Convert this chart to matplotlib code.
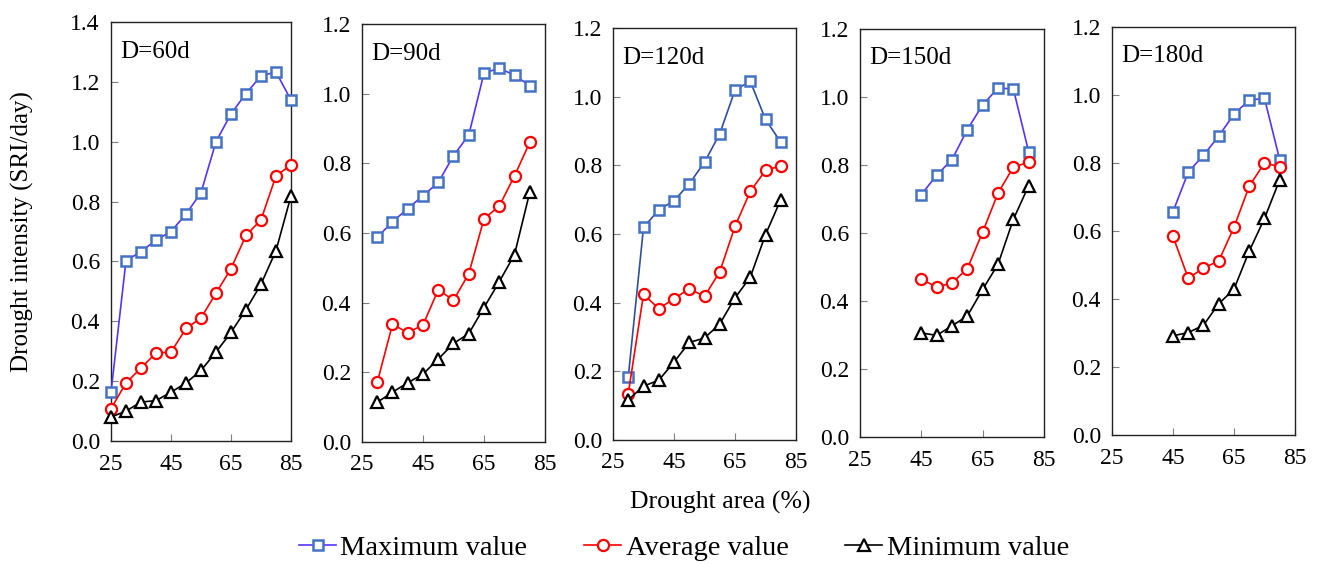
import numpy as np
import matplotlib
matplotlib.use("Agg")
import matplotlib.pyplot as plt
from matplotlib.lines import Line2D

plt.rcParams['font.family'] = ['Liberation Serif', 'DejaVu Serif']

# Drought area (%) per panel
x60 = [25, 30, 35, 40, 45, 50, 55, 60, 65, 70, 75, 80, 85]
x90 = [30, 35, 40, 45, 50, 55, 60, 65, 70, 75, 80]
x120 = [30, 35, 40, 45, 50, 55, 60, 65, 70, 75, 80]
x150 = [45, 50, 55, 60, 65, 70, 75, 80]
x180 = [45, 50, 55, 60, 65, 70, 75, 80]

# Drought intensity (SRI/day)
max60 = [0.163, 0.602, 0.633, 0.671, 0.700, 0.758, 0.830, 1.000, 1.093, 1.161, 1.220, 1.233, 1.139]
avg60 = [0.108, 0.194, 0.244, 0.294, 0.297, 0.376, 0.411, 0.494, 0.576, 0.687, 0.739, 0.886, 0.922]
min60 = [0.080, 0.100, 0.130, 0.135, 0.163, 0.194, 0.236, 0.297, 0.363, 0.439, 0.524, 0.636, 0.819]

max90 = [0.588, 0.632, 0.670, 0.707, 0.745, 0.822, 0.881, 1.059, 1.073, 1.053, 1.023]
avg90 = [0.171, 0.338, 0.314, 0.336, 0.437, 0.407, 0.483, 0.641, 0.677, 0.764, 0.860]
min90 = [0.114, 0.143, 0.170, 0.195, 0.238, 0.283, 0.311, 0.386, 0.460, 0.538, 0.717]

max120 = [0.183, 0.619, 0.670, 0.697, 0.746, 0.809, 0.892, 1.019, 1.045, 0.934, 0.867]
avg120 = [0.135, 0.424, 0.383, 0.411, 0.441, 0.418, 0.490, 0.622, 0.724, 0.785, 0.799]
min120 = [0.117, 0.157, 0.174, 0.227, 0.284, 0.297, 0.338, 0.414, 0.474, 0.598, 0.700]

max150 = [0.713, 0.770, 0.816, 0.904, 0.977, 1.026, 1.024, 0.839]
avg150 = [0.464, 0.441, 0.453, 0.495, 0.603, 0.717, 0.794, 0.808]
min150 = [0.306, 0.299, 0.327, 0.356, 0.434, 0.508, 0.640, 0.739]

max180 = [0.657, 0.773, 0.823, 0.879, 0.944, 0.985, 0.990, 0.809]
avg180 = [0.584, 0.461, 0.491, 0.512, 0.611, 0.732, 0.800, 0.789]
min180 = [0.292, 0.301, 0.323, 0.386, 0.429, 0.541, 0.637, 0.751]

labels = ["D=60d", "D=90d", "D=120d", "D=150d", "D=180d"]
xs = [x60, x90, x120, x150, x180]
maxs = [max60, max90, max120, max150, max180]
avgs = [avg60, avg90, avg120, avg150, avg180]
mins = [min60, min90, min120, min150, min180]
ytops = [1.4, 1.2, 1.2, 1.2, 1.2]
xticks = [25, 45, 65, 85]

W, H = 1318, 564
fig = plt.figure(figsize=(W / 100, H / 100), dpi=100)

# panel boxes in pixels: left, right, top, bottom
boxes = [(111, 291, 22, 441), (362, 545, 24, 442), (613, 796, 28, 440),
         (860, 1044, 29, 437), (1112, 1295, 27, 435)]

max_line = ['#5533FF', '#5533FF', '#2F4F9A', '#5533FF', '#5533FF']
sq_edge = '#4472C4'

for i in range(5):
    l, r, t, b = boxes[i]
    ax = fig.add_axes([l / W, 1 - b / H, (r - l) / W, (b - t) / H])
    ax.plot(xs[i], maxs[i], color=max_line[i], lw=1.2, marker='s', ms=7.5,
            mfc='white', mec=sq_edge, mew=1.8, zorder=3, clip_on=False)
    ax.plot(xs[i], avgs[i], color='red', lw=1.2, marker='o', ms=8,
            mfc='white', mec='red', mew=1.6, zorder=3, clip_on=False)
    ax.plot(xs[i], mins[i], color='black', lw=1.2, marker='^', ms=9,
            mfc='white', mec='black', mew=1.6, zorder=3, clip_on=False)
    ax.set_xlim(25, 85)
    ax.set_ylim(0, ytops[i])
    ax.set_xticks(xticks)
    ax.set_yticks(np.arange(0, ytops[i] + 0.01, 0.2))
    ax.yaxis.set_major_formatter(matplotlib.ticker.FormatStrFormatter('%.1f'))
    ax.tick_params(direction='in', length=5, width=0.8, color='#808080',
                   labelsize=17, pad=8)
    ax.tick_params(axis='x', pad=9)
    for sp in ax.spines.values():
        sp.set_linewidth(1.0)
        sp.set_color('#222222')
    ax.text(0.05, 0.955, labels[i], transform=ax.transAxes, ha='left', va='top',
            fontsize=18)

fig.text(22 / W, 1 - 232 / H, "Drought intensity (SRI/day)", rotation=90,
         ha='center', va='center', fontsize=18)
fig.text(720 / W, 1 - 502 / H, "Drought area (%)", ha='center', va='center',
         fontsize=18.5)

handles = [
    Line2D([], [], color='#5533FF', lw=1.2, marker='s', ms=7.5, mfc='white', mec=sq_edge, mew=1.8),
    Line2D([], [], color='red', lw=1.2, marker='o', ms=8, mfc='white', mec='red', mew=1.6),
    Line2D([], [], color='black', lw=1.2, marker='^', ms=9, mfc='white', mec='black', mew=1.6),
]
fig.legend(handles, ["Maximum value", "Average value", "Minimum value"],
           loc='center', bbox_to_anchor=(684 / W, 1 - 548 / H), ncol=3,
           frameon=False, fontsize=20.5, handlelength=1.3, handletextpad=0.15,
           columnspacing=2.0, borderaxespad=0)

fig.savefig("out.png", dpi=100)
